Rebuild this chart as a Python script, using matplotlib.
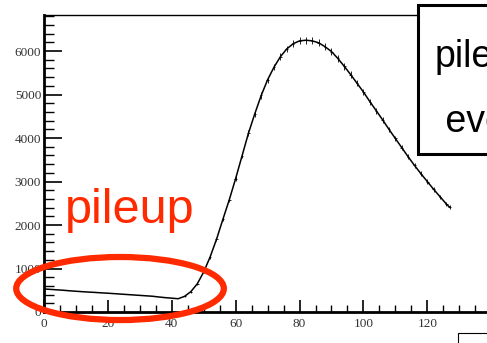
import numpy as np
import matplotlib.pyplot as plt
from matplotlib.patches import Ellipse, Rectangle
from matplotlib.ticker import MultipleLocator

# histogram contents (bin centre, counts)
x_vals = [0, 2, 4, 6, 8, 10, 12, 14, 16, 18, 20, 22, 24, 26, 28, 30, 32, 34, 36, 38,
          40, 42, 44, 46, 48, 50, 52, 54, 56, 58, 60, 62, 64, 66, 68, 70, 72, 74, 76, 78,
          80, 82, 84, 86, 88, 90, 92, 94, 96, 98, 100, 102, 104, 106, 108, 110, 112, 114,
          116, 118, 120, 122, 124, 126, 127]
y_vals = [530, 520, 510, 500, 488, 477, 467, 458, 450, 440, 432, 422, 412, 402, 392, 382,
          372, 362, 345, 330, 318, 305, 360, 470, 650, 920, 1265, 1670, 2130, 2580, 3070,
          3590, 4110, 4560, 4980, 5340, 5630, 5870, 6050, 6170, 6235, 6250, 6235, 6190,
          6100, 5990, 5830, 5650, 5460, 5260, 5060, 4840, 4630, 4420, 4200, 3990, 3780,
          3570, 3370, 3180, 3000, 2820, 2650, 2480, 2410]

x = np.array(x_vals)
y = np.array(y_vals)

fig = plt.figure(figsize=(4.87, 3.43), dpi=100)
W, H = 487, 343
# frame runs to the right edge of the picture, like the cropped original
ax = fig.add_axes([44 / W, 31 / H, 444 / W, 297 / H])
ax.set_xlim(0, 139)
ax.set_ylim(0, 6830)

ax.plot(x, y, color='black', lw=1.1)
sel = x > 42
ax.errorbar(x[sel], y[sel], yerr=np.sqrt(y[sel]), xerr=0.4, fmt='none',
            ecolor='black', elinewidth=0.6)

ax.xaxis.set_major_locator(MultipleLocator(20))
ax.xaxis.set_minor_locator(MultipleLocator(5))
ax.yaxis.set_major_locator(MultipleLocator(1000))
ax.yaxis.set_minor_locator(MultipleLocator(200))
ax.tick_params(axis='y', which='major', direction='in', length=13, width=1.2)
ax.tick_params(axis='y', which='minor', direction='in', length=7, width=1.0)
ax.tick_params(axis='x', which='major', direction='in', length=9, width=1.2)
ax.tick_params(axis='x', which='minor', direction='in', length=5, width=1.0)
ax.tick_params(axis='both', which='both', labelsize=9.5, labelcolor='#333333',
               top=False, right=False)
ax.tick_params(axis='y', pad=2)
ax.tick_params(axis='x', pad=4)
for lab in ax.get_xticklabels() + ax.get_yticklabels():
    lab.set_family('Liberation Serif')
ax.spines['left'].set_linewidth(2)
ax.spines['bottom'].set_linewidth(2)
ax.spines['top'].set_linewidth(1)
ax.spines['right'].set_visible(False)

# red annotation
ax.text(6.5, 2050, 'pileup', color='#ff2a00', fontsize=35, family='Liberation Sans')
ax.add_patch(Ellipse((23.8, 540), 65, 1450, fill=False, edgecolor='#ff2a00', lw=4.5,
                     clip_on=False, zorder=5))

# label box at the top right (cut by the picture edge)
fig.patches.append(Rectangle((418 / W, 1 - 154 / H), 80 / W, 149 / H, transform=fig.transFigure,
                             facecolor='white', edgecolor='black', lw=2.2, zorder=10))
fig.text(435 / W, 1 - 67 / H, 'pileup', fontsize=27, family='Liberation Sans', zorder=11)
fig.text(435 / W, 1 - 132 / H, ' events', fontsize=27, family='Liberation Sans', zorder=11)

# small box bottom right
fig.patches.append(Rectangle((458 / W, -5 / H), 40 / W, 15 / H, transform=fig.transFigure,
                             facecolor='white', edgecolor='black', lw=0.8, zorder=10))

fig.savefig('out.png', dpi=100)
